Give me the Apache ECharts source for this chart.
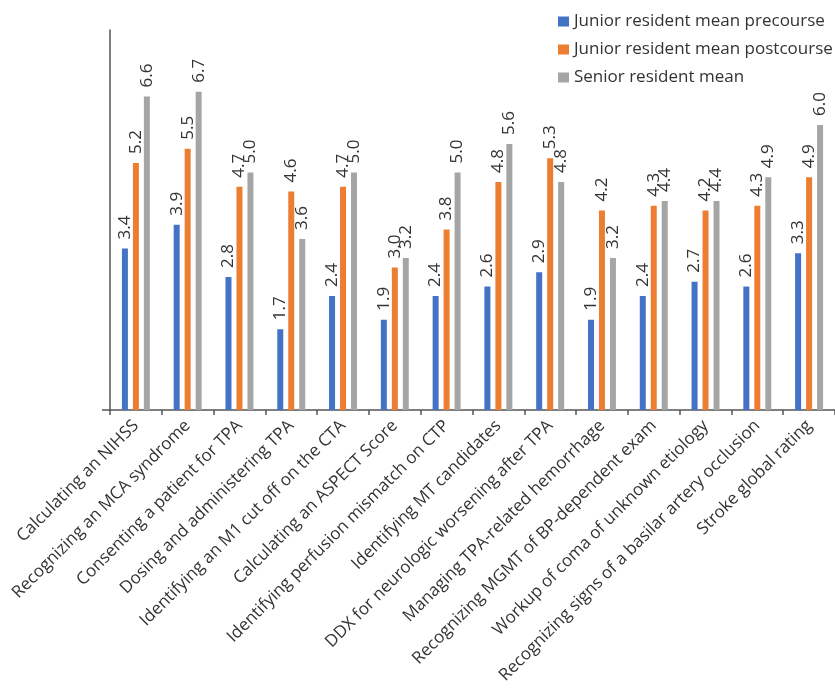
<!DOCTYPE html>
<html><head><meta charset="utf-8">
<script src="https://cdn.jsdelivr.net/npm/echarts@6/dist/echarts.min.js"></script>
<style>html,body{margin:0;padding:0;background:#fff}#c{width:835px;height:692px}</style>
</head><body><div id="c"></div>
<script>
const categories = [
  "Calculating an NIHSS",
  "Recognizing an MCA syndrome",
  "Consenting a patient for TPA",
  "Dosing and administering TPA",
  "Identifying an M1 cut off on the CTA",
  "Calculating an ASPECT Score",
  "Identifying perfusion mismatch on CTP",
  "Identifying MT candidates",
  "DDX for neurologic worsening after TPA",
  "Managing TPA-related hemorrhage",
  "Recognizing MGMT of BP-dependent exam",
  "Workup of coma of unknown etiology",
  "Recognizing signs of a basilar artery occlusion",
  "Stroke global rating"
];
const seriesNames = ["Junior resident mean precourse", "Junior resident mean postcourse", "Senior resident mean"];
const juniorPre  = [3.4, 3.9, 2.8, 1.7, 2.4, 1.9, 2.4, 2.6, 2.9, 1.9, 2.4, 2.7, 2.6, 3.3];
const juniorPost = [5.2, 5.5, 4.7, 4.6, 4.7, 3.0, 3.8, 4.8, 5.3, 4.2, 4.3, 4.2, 4.3, 4.9];
const senior     = [6.6, 6.7, 5.0, 3.6, 5.0, 3.2, 5.0, 5.6, 4.8, 3.2, 4.4, 4.4, 4.9, 6.0];
const colors = ["#4472C4", "#ED7D31", "#A5A5A5"];

const FONT = "Open Sans";
const chart = echarts.init(document.getElementById('c'), null, {renderer: 'canvas'});
function mk(name, data, color) {
  return {
    name: name, type: 'bar', data: data, barWidth: 6, barGap: '83%',
    itemStyle: {color: color},
    label: {
      show: true, position: 'top', rotate: 90, align: 'left', verticalAlign: 'middle',
      distance: 9, fontFamily: FONT, fontSize: 17, color: '#333',
      formatter: p => p.value.toFixed(1)
    }
  };
}
chart.setOption({
  animation: false,
  textStyle: {fontFamily: FONT},
  legend: {
    orient: 'vertical', left: 553, top: 8, itemWidth: 11, itemHeight: 10, itemGap: 11,
    icon: 'rect',
    textStyle: {fontFamily: FONT, fontSize: 17, color: '#333'},
    data: seriesNames
  },
  grid: {left: 110, top: 30, width: 728, height: 380, containLabel: false},
  graphic: [{
    type: 'line', shape: {x1: 102, y1: 410, x2: 110, y2: 410},
    style: {stroke: '#555', lineWidth: 1.5}
  }],
  xAxis: {
    type: 'category', data: categories,
    axisLine: {lineStyle: {color: '#555', width: 1.5}},
    axisTick: {show: true, length: 5, lineStyle: {color: '#555', width: 1.5}},
    axisLabel: {rotate: 45, interval: 0, margin: 13, fontFamily: FONT, fontSize: 17, color: '#333'}
  },
  yAxis: {
    type: 'value', min: 0, max: 8,
    axisLine: {show: true, lineStyle: {color: '#555', width: 1.5}},
    axisTick: {show: false}, axisLabel: {show: false}, splitLine: {show: false}
  },
  series: [
    mk(seriesNames[0], juniorPre, colors[0]),
    mk(seriesNames[1], juniorPost, colors[1]),
    mk(seriesNames[2], senior, colors[2])
  ]
});
</script></body></html>
